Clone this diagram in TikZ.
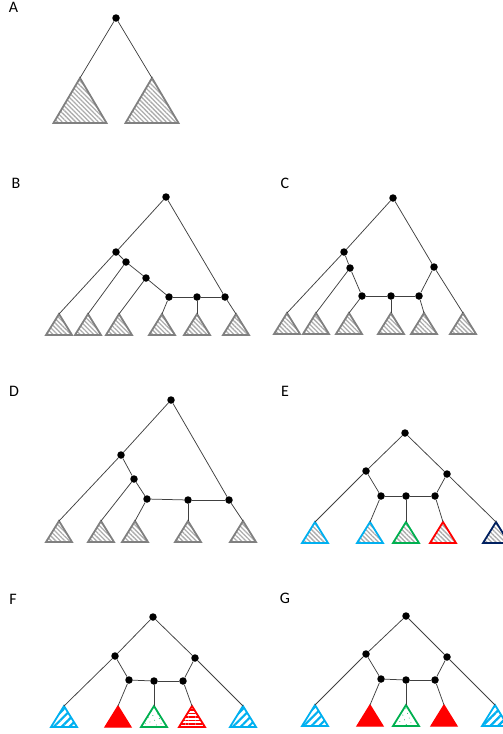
\documentclass[tikz,border=0pt]{standalone}
\usepackage{fontspec}
\setmainfont{Carlito}
\usetikzlibrary{patterns.meta}
\definecolor{hgray}{RGB}{128,128,128}
\definecolor{sky}{RGB}{0,176,240}
\definecolor{grn}{RGB}{0,176,80}
\definecolor{navy}{RGB}{0,32,96}
\tikzset{
  dot/.style={circle,fill=black,inner sep=0pt,minimum size=7.5pt},
  edge/.style={line width=0.75pt,draw=black!75},
  lab/.style={font=\fontsize{16}{16}\selectfont,anchor=center,inner sep=0pt},
  grayhatch/.style={pattern={Lines[angle=-45,distance=3.2pt,line width=1.3pt]},pattern color=gray!65},
  gtri/.style={draw=hgray,line width=1.8pt,grayhatch},
  ctri/.style={draw=#1,line width=1.8pt,grayhatch},
  bluehatch/.style={draw=sky,line width=1.8pt,pattern={Lines[angle=45,distance=5.5pt,line width=2.2pt]},pattern color=sky},
  redsolid/.style={draw=red,fill=red,line width=1.2pt},
  greendots/.style={draw=grn,line width=1.8pt,pattern={Dots[distance=5pt,radius=0.5pt,angle=20]},pattern color=grn},
  redlines/.style={draw=red,line width=1.8pt,pattern={Lines[angle=0,distance=3.4pt,line width=1.6pt]},pattern color=red},
}
% small triangle: name, apex x, apex y, style
\newcommand{\trig}[4]{%
  \coordinate (#1) at (#2,#3);
  \path[#4] (#2,#3) -- ++(-13,21) -- ++(26,0) -- cycle;}
% big triangle
\newcommand{\bigtrig}[4]{%
  \coordinate (#1) at (#2,#3);
  \path[#4] (#2,#3) -- ++(-26.5,45) -- ++(53,0) -- cycle;}
\begin{document}
\begin{tikzpicture}[x=1pt,y=-1pt]
\useasboundingbox (0,0) rectangle (503,734);
% ---------- A ----------
\node[lab] (labA) at (13.5,7) {A};
\bigtrig{aL}{80}{78}{gtri}
\bigtrig{aR}{152}{78}{gtri}
\node[dot] (a0) at (116,18) {};
\draw[edge] (a0) -- (aL);
\draw[edge] (a0) -- (aR);
% ---------- B ----------
\node[lab] (labB) at (16,183) {B};
\trig{bt1}{59}{314}{gtri}
\trig{bt2}{88}{314}{gtri}
\trig{bt3}{119}{314}{gtri}
\trig{bt4}{162}{314}{gtri}
\trig{bt5}{197}{314}{gtri}
\trig{bt6}{236}{314}{gtri}
\node[dot] (b0) at (166,197) {};
\node[dot] (b1) at (116,252) {};
\node[dot] (b2) at (126,262) {};
\node[dot] (b3) at (146,278) {};
\node[dot] (b4) at (169,297) {};
\node[dot] (b5) at (197,297) {};
\node[dot] (b6) at (225,297) {};
\draw[edge] (b0) -- (b1);
\draw[edge] (b0) -- (b6);
\draw[edge] (b1) -- (bt1);
\draw[edge] (b1) -- (b2);
\draw[edge] (b2) -- (bt2);
\draw[edge] (b2) -- (b3);
\draw[edge] (b3) -- (bt3);
\draw[edge] (b3) -- (b4);
\draw[edge] (b4) -- (bt4);
\draw[edge] (b4) -- (b5);
\draw[edge] (b5) -- (bt5);
\draw[edge] (b5) -- (b6);
\draw[edge] (b6) -- (bt6);
% ---------- C ----------
\node[lab] (labC) at (285,183) {C};
\trig{ct1}{287}{313}{gtri}
\trig{ct2}{316}{313}{gtri}
\trig{ct3}{349}{313}{gtri}
\trig{ct4}{391}{313}{gtri}
\trig{ct5}{424}{313}{gtri}
\trig{ct6}{463}{313}{gtri}
\node[dot] (c0) at (393,198) {};
\node[dot] (c1) at (344,252) {};
\node[dot] (c2) at (350,268) {};
\node[dot] (c3) at (362,296) {};
\node[dot] (c4) at (391,296) {};
\node[dot] (c5) at (419,296) {};
\node[dot] (c6) at (434,267) {};
\draw[edge] (c0) -- (c1);
\draw[edge] (c0) -- (c6);
\draw[edge] (c1) -- (ct1);
\draw[edge] (c1) -- (c2);
\draw[edge] (c2) -- (ct2);
\draw[edge] (c2) -- (c3);
\draw[edge] (c3) -- (ct3);
\draw[edge] (c3) -- (c4);
\draw[edge] (c4) -- (ct4);
\draw[edge] (c4) -- (c5);
\draw[edge] (c5) -- (ct5);
\draw[edge] (c5) -- (c6);
\draw[edge] (c6) -- (ct6);
% ---------- D ----------
\node[lab] (labD) at (14,391) {D};
\trig{dt1}{59}{521}{gtri}
\trig{dt2}{101}{521}{gtri}
\trig{dt3}{135}{521}{gtri}
\trig{dt4}{188}{521}{gtri}
\trig{dt5}{243}{521}{gtri}
\node[dot] (d0) at (171,400) {};
\node[dot] (d1) at (121,455) {};
\node[dot] (d2) at (134,479) {};
\node[dot] (d3) at (147,499) {};
\node[dot] (d4) at (188,500) {};
\node[dot] (d5) at (229,500) {};
\draw[edge] (d0) -- (d1);
\draw[edge] (d0) -- (d5);
\draw[edge] (d1) -- (dt1);
\draw[edge] (d1) -- (d2);
\draw[edge] (d2) -- (dt2);
\draw[edge] (d2) -- (d3);
\draw[edge] (d3) -- (dt3);
\draw[edge] (d3) -- (d4);
\draw[edge] (d4) -- (dt4);
\draw[edge] (d4) -- (d5);
\draw[edge] (d5) -- (dt5);
% ---------- E ----------
\node[lab] (labE) at (285,391) {E};
\trig{et1}{315}{522}{ctri=sky}
\trig{et2}{370}{522}{ctri=sky}
\trig{et3}{406}{522}{ctri=grn}
\trig{et4}{443}{522}{ctri=red}
\trig{et5}{496}{522}{ctri=navy}
\node[dot] (e0) at (405,433) {};
\node[dot] (eL) at (366,471) {};
\node[dot] (eR) at (447,474) {};
\node[dot] (e1) at (381,496) {};
\node[dot] (e2) at (406,496) {};
\node[dot] (e3) at (435,496) {};
\draw[edge] (e0) -- (eL);
\draw[edge] (e0) -- (eR);
\draw[edge] (eL) -- (et1);
\draw[edge] (eL) -- (e1);
\draw[edge] (e1) -- (et2);
\draw[edge] (e1) -- (e2);
\draw[edge] (e2) -- (et3);
\draw[edge] (e2) -- (e3);
\draw[edge] (e3) -- (et4);
\draw[edge] (e3) -- (eR);
\draw[edge] (eR) -- (et5);
% ---------- F ----------
\node[lab] (labF) at (13,599) {F};
\trig{ft1}{64}{706}{bluehatch}
\trig{ft2}{118}{706}{redsolid}
\trig{ft3}{154}{706}{greendots}
\trig{ft4}{192}{706}{redlines}
\trig{ft5}{243}{706}{bluehatch}
\node[dot] (f0) at (153,617) {};
\node[dot] (fL) at (115,656) {};
\node[dot] (fR) at (195,658) {};
\node[dot] (f1) at (129,680) {};
\node[dot] (f2) at (154,681) {};
\node[dot] (f3) at (183,681) {};
\draw[edge] (f0) -- (fL);
\draw[edge] (f0) -- (fR);
\draw[edge] (fL) -- (ft1);
\draw[edge] (fL) -- (f1);
\draw[edge] (f1) -- (ft2);
\draw[edge] (f1) -- (f2);
\draw[edge] (f2) -- (ft3);
\draw[edge] (f2) -- (f3);
\draw[edge] (f3) -- (ft4);
\draw[edge] (f3) -- (fR);
\draw[edge] (fR) -- (ft5);
% ---------- G ----------
\node[lab] (labG) at (285,598) {G};
\trig{gt1}{315}{705}{bluehatch}
\trig{gt2}{370}{705}{redsolid}
\trig{gt3}{406}{705}{greendots}
\trig{gt4}{444}{705}{redsolid}
\trig{gt5}{495}{705}{bluehatch}
\node[dot] (g0) at (406,616) {};
\node[dot] (gL) at (366,654) {};
\node[dot] (gR) at (447,657) {};
\node[dot] (g1) at (381,679) {};
\node[dot] (g2) at (406,680) {};
\node[dot] (g3) at (435,680) {};
\draw[edge] (g0) -- (gL);
\draw[edge] (g0) -- (gR);
\draw[edge] (gL) -- (gt1);
\draw[edge] (gL) -- (g1);
\draw[edge] (g1) -- (gt2);
\draw[edge] (g1) -- (g2);
\draw[edge] (g2) -- (gt3);
\draw[edge] (g2) -- (g3);
\draw[edge] (g3) -- (gt4);
\draw[edge] (g3) -- (gR);
\draw[edge] (gR) -- (gt5);
\end{tikzpicture}
\end{document}
